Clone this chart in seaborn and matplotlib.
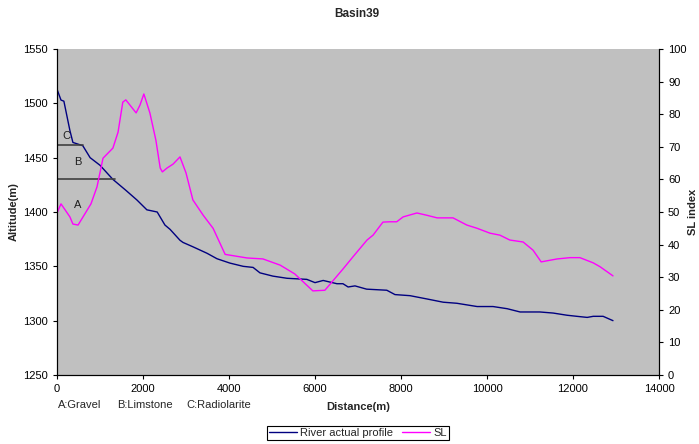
import matplotlib
matplotlib.use("Agg")
import matplotlib.pyplot as plt
import seaborn as sns
import pandas as pd

# River longitudinal profile (distance in m, altitude in m)
river_dist = [0, 93, 160, 300, 370, 600, 770, 1000, 1300, 1600, 1860, 2090, 2330,
              2510, 2630, 2860, 2930, 3160, 3490, 3720, 4020, 4330, 4560, 4720,
              5020, 5350, 5810, 6000, 6190, 6510, 6650, 6770, 6930, 7200, 7670,
              7860, 8210, 8600, 8980, 9300, 9770, 10140, 10470, 10770, 11230,
              11540, 11860, 12090, 12330, 12470, 12700, 12930]
river_alt = [1513, 1503, 1502, 1475, 1464, 1461, 1450, 1443, 1430, 1420, 1411, 1402, 1400,
             1388, 1384, 1374, 1372, 1368, 1362, 1357, 1353, 1350, 1349, 1344,
             1341, 1339, 1338, 1335, 1337, 1334, 1334, 1331, 1332, 1329, 1328,
             1324, 1323, 1320, 1317, 1316, 1313, 1313, 1311, 1308, 1308,
             1307, 1305, 1304, 1303, 1304, 1304, 1300]

# Stream-length gradient index along the channel
sl_dist = [0, 93, 300, 370, 490, 790, 930, 1070, 1300, 1420, 1530, 1600, 1840, 1930,
           2020, 2160, 2300, 2400, 2450, 2560, 2700, 2860, 3000, 3160, 3400, 3630,
           3910, 4420, 4790, 5190, 5530, 5950, 6230, 6650, 6880, 7210, 7350, 7580,
           7740, 7900, 8050, 8370, 8600, 8840, 8980, 9210, 9530, 9770, 10070,
           10300, 10530, 10840, 11070, 11260, 11630, 11930, 12160, 12470, 12630, 12930]
sl_index = [49.7, 52.5, 48.5, 46.3, 46.0, 52.5, 57.7, 66.5, 69.6, 74.5, 83.7, 84.4, 80.4, 82.8,
            86.2, 80.4, 72.0, 63.5, 62.3, 63.5, 64.7, 66.9, 62.0, 53.7, 49.0, 45.0,
            37.0, 35.9, 35.6, 33.7, 31.0, 25.8, 26.0, 32.5, 36.2, 41.4, 42.9, 46.9,
            47.0, 47.0, 48.5, 49.7, 49.0, 48.2, 48.2, 48.2, 46.0, 45.0, 43.5,
            42.9, 41.4, 40.8, 38.3, 34.7, 35.6, 36.0, 36.0, 34.4, 33.2, 30.4]

# Lithology boundaries (top altitude of each unit, extent along the profile)
unit_tops = [1462, 1430]
unit_ends = [600, 1350]
unit_marks = ["C", "B", "A"]
unit_mark_pos = [(230, 1470), (490, 1446), (490, 1406)]
unit_legend = ["A:Gravel", "B:Limstone", "C:Radiolarite"]

sns.set_style("white")
plt.rcParams["font.family"] = ["Liberation Sans", "DejaVu Sans"]

fig = plt.figure(figsize=(6.99, 4.44), dpi=100)
ax = fig.add_axes([57 / 699, 1 - 375 / 444, (659 - 57) / 699, (375 - 49) / 444])
ax.set_facecolor("#C0C0C0")
ax2 = ax.twinx()

river_df = pd.DataFrame({"Distance": river_dist, "Altitude": river_alt})
sl_df = pd.DataFrame({"Distance": sl_dist, "SL": sl_index})

sns.lineplot(data=river_df, x="Distance", y="Altitude", ax=ax, color="#000080",
             linewidth=1.0, label="River actual profile", legend=False)
sns.lineplot(data=sl_df, x="Distance", y="SL", ax=ax2, color="#FF00FF",
             linewidth=1.0, label="SL", legend=False)

for top, end in zip(unit_tops, unit_ends):
    ax.plot([0, end], [top, top], color="#404040", linewidth=1.2)
for mark, (mx, my) in zip(unit_marks, unit_mark_pos):
    ax.text(mx, my, mark, fontsize=8, ha="center", va="center", color="#202020")

ax.set_xlim(0, 14000)
ax.set_ylim(1250, 1550)
ax2.set_ylim(0, 100)
ax.set_xticks(range(0, 14001, 2000))
ax.set_yticks(range(1250, 1551, 50))
ax2.set_yticks(range(0, 101, 10))

for a in (ax, ax2):
    a.tick_params(axis="both", labelsize=8, direction="out", length=3, width=0.8,
                  colors="black")
    a.spines["top"].set_visible(False)
    for side in ("left", "bottom", "right"):
        a.spines[side].set_color("black")
        a.spines[side].set_linewidth(0.8)
ax.tick_params(axis="y", left=True, right=False)
ax.tick_params(axis="x", bottom=True)
ax2.tick_params(axis="y", right=True)

ax.set_xlabel("Distance(m)", fontsize=8, fontweight="bold", labelpad=6)
ax.set_ylabel("Altitude(m)", fontsize=8, fontweight="bold", labelpad=3)
ax2.set_ylabel("SL index", fontsize=8, fontweight="bold", labelpad=1)
fig.text(357 / 699, 1 - 14 / 444, "Basin39", fontsize=8.5, fontweight="bold",
         ha="center", va="center")

for label, xpix in zip(unit_legend, [58, 117, 186]):
    fig.text(xpix / 699, 1 - 405 / 444, label, fontsize=8, ha="left", va="center")

handles = ax.get_lines()[:1] + ax2.get_lines()[:1]
leg = fig.legend(handles, ["River actual profile", "SL"], loc="center",
                 bbox_to_anchor=(358 / 699, 1 - 433 / 444), ncol=2, fontsize=8,
                 frameon=True, fancybox=False, framealpha=1, edgecolor="black",
                 handlelength=2.5, handletextpad=0.3, columnspacing=0.8,
                 borderpad=0.2)
leg.get_frame().set_linewidth(0.8)

fig.savefig("out.png", dpi=100)
